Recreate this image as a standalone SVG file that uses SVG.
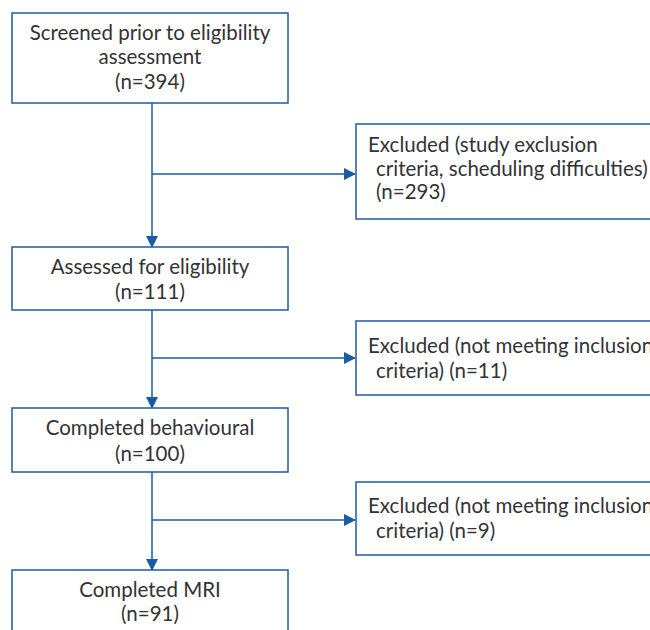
<svg xmlns="http://www.w3.org/2000/svg" width="650" height="630" viewBox="0 0 650 630">
<defs>
<marker id="ah" markerWidth="12" markerHeight="12" refX="11" refY="6" orient="auto" markerUnits="userSpaceOnUse">
<path d="M0,0 L12,6 L0,12 Z" fill="#1d5ba6"/>
</marker>
<style>
.box{fill:#fff;stroke:#1d5ba6;stroke-width:1.5}
.ln{fill:none;stroke:#1d5ba6;stroke-width:1.5}
text{font-family:Lato,"Noto Sans",sans-serif;font-size:20.5px;fill:#333}
.c{text-anchor:middle}
</style>
</defs>
<rect width="650" height="630" fill="#fff"/>
<g id="connectors">
<path class="ln" d="M152,103 V247" marker-end="url(#ah)"/>
<path class="ln" d="M152,174 H355" marker-end="url(#ah)"/>
<path class="ln" d="M152,310 V408" marker-end="url(#ah)"/>
<path class="ln" d="M152,358 H355" marker-end="url(#ah)"/>
<path class="ln" d="M152,472 V570" marker-end="url(#ah)"/>
<path class="ln" d="M152,520 H355" marker-end="url(#ah)"/>
</g>
<g id="screened">
<rect class="box" x="12" y="13" width="276" height="90"/>
<text class="c" x="150" y="40">Screened prior to eligibility</text>
<text class="c" x="150" y="64">assessment</text>
<text class="c" x="150" y="89">(n=394)</text>
</g>
<g id="excluded1">
<rect class="box" x="356" y="124" width="300" height="95"/>
<text x="368" y="152">Excluded (study exclusion</text>
<text x="376" y="176">criteria, scheduling difficulties)</text>
<text x="376" y="199">(n=293)</text>
</g>
<g id="assessed">
<rect class="box" x="12" y="247" width="276" height="63"/>
<text class="c" x="150" y="274">Assessed for eligibility</text>
<text class="c" x="150" y="299">(n=111)</text>
</g>
<g id="excluded2">
<rect class="box" x="356" y="321" width="300" height="74"/>
<text x="368" y="353">Excluded (not meeting inclusion</text>
<text x="376" y="378">criteria) (n=11)</text>
</g>
<g id="behavioural">
<rect class="box" x="12" y="408" width="276" height="64"/>
<text class="c" x="150" y="435">Completed behavioural</text>
<text class="c" x="150" y="461">(n=100)</text>
</g>
<g id="excluded3">
<rect class="box" x="356" y="482" width="300" height="73"/>
<text x="368" y="513">Excluded (not meeting inclusion</text>
<text x="376" y="538">criteria) (n=9)</text>
</g>
<g id="mri">
<rect class="box" x="12" y="570" width="276" height="70"/>
<text class="c" x="150" y="597">Completed MRI</text>
<text class="c" x="150" y="621">(n=91)</text>
</g>
</svg>
